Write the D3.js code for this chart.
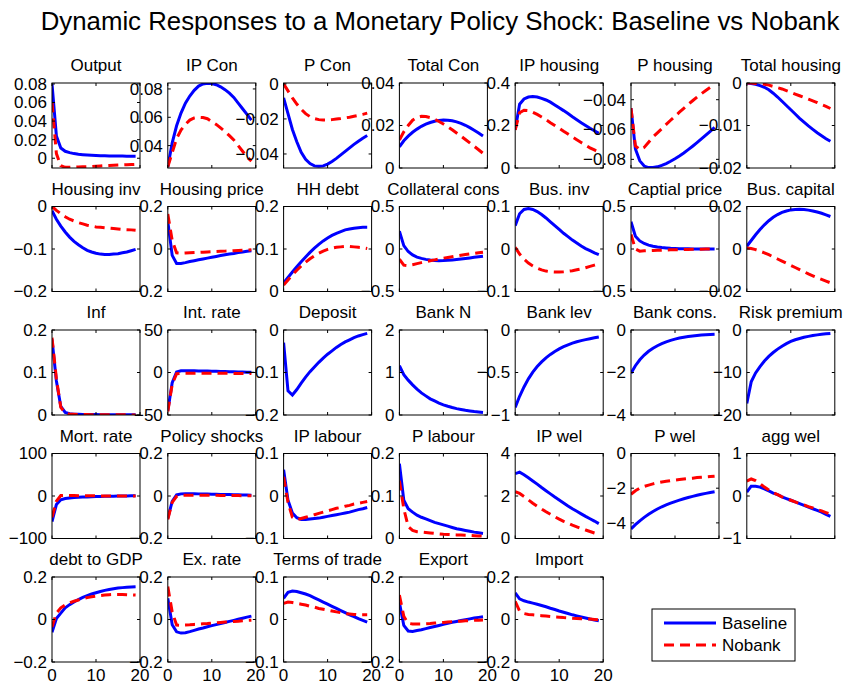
<!DOCTYPE html>
<html>
<head>
<meta charset="utf-8">
<script src="https://cdn.jsdelivr.net/npm/d3@7"></script>
<style>
  body { margin: 0; background: #fff; }
  svg { font-family: "Liberation Sans", Arial, sans-serif; }
</style>
</head>
<body>
<svg></svg>
<script>
const svg = d3.select('svg')
    .attr('width', 847)
    .attr('height', 684);

// impulse response horizon
const periods = [0, 1, 2, 3, 4, 5, 6, 7, 8, 9, 10, 11, 12, 13, 14, 15, 16, 17, 18, 19];
const xTicks = [0, 10, 20];

const titles = ['Output', 'IP Con', 'P Con', 'Total Con', 'IP housing', 'P housing', 'Total housing',
    'Housing inv', 'Housing price', 'HH debt', 'Collateral cons', 'Bus. inv', 'Captial price', 'Bus. capital',
    'Inf', 'Int. rate', 'Deposit', 'Bank N', 'Bank lev', 'Bank cons.', 'Risk premium',
    'Mort. rate', 'Policy shocks', 'IP labour', 'P labour', 'IP wel', 'P wel', 'agg wel',
    'debt to GDP', 'Ex. rate', 'Terms of trade', 'Export', 'Import'];

// y limits of each panel
const yDomains = [
    [-0.0105, 0.081], [0.0242, 0.0842], [-0.048, 0.0005], [0, 0.04], [0, 0.4], [-0.0858, -0.0288], [-0.02, 0],
    [-0.2, 0], [-0.2, 0.2], [0, 0.2], [-0.5, 0.5], [-0.1, 0.1], [-0.5, 0.5], [-0.02, 0.02],
    [0, 0.2], [-50, 50], [-0.2, 0], [0, 2], [-1, 0], [-4, 0], [-20, 0],
    [-100, 100], [-0.2, 0.2], [-0.1, 0.1], [0, 0.2], [0, 4], [-4.9, 0], [-1, 1],
    [-0.2, 0.2], [-0.2, 0.2], [-0.1, 0.1], [-0.2, 0.2], [-0.2, 0.2]];

const yTicks = [
    [0, 0.02, 0.04, 0.06, 0.08], [0.04, 0.06, 0.08], [-0.04, -0.02, 0], [0, 0.02, 0.04], [0, 0.2, 0.4], [-0.08, -0.06, -0.04], [-0.02, -0.01, 0],
    [-0.2, -0.1, 0], [-0.2, 0, 0.2], [0, 0.1, 0.2], [-0.5, 0, 0.5], [-0.1, 0, 0.1], [-0.5, 0, 0.5], [-0.02, 0, 0.02],
    [0, 0.1, 0.2], [-50, 0, 50], [-0.2, -0.1, 0], [0, 1, 2], [-1, -0.5, 0], [-4, -2, 0], [-20, -10, 0],
    [-100, 0, 100], [-0.2, 0, 0.2], [-0.1, 0, 0.1], [0, 0.1, 0.2], [0, 2, 4], [-4, -2, 0], [-1, 0, 1],
    [-0.2, 0, 0.2], [-0.2, 0, 0.2], [-0.1, 0, 0.1], [-0.2, 0, 0.2], [-0.2, 0, 0.2]];

// Baseline responses
const baseline = [
    [0.080, 0.024, 0.011, 0.0075, 0.006, 0.005, 0.0043, 0.0038, 0.0034, 0.0031, 0.0029, 0.0027, 0.0026, 0.0025, 0.0024, 0.0023, 0.0023, 0.0022, 0.0022, 0.0022],
    [0.025, 0.042, 0.054, 0.063, 0.070, 0.075, 0.079, 0.082, 0.0835, 0.084, 0.0838, 0.083, 0.0815, 0.0795, 0.077, 0.074, 0.070, 0.066, 0.062, 0.058],
    [-0.008, -0.017, -0.026, -0.033, -0.039, -0.043, -0.0455, -0.0468, -0.047, -0.0468, -0.0458, -0.0443, -0.0425, -0.0405, -0.0385, -0.0365, -0.0345, -0.0327, -0.031, -0.0295],
    [0.010, 0.0128, 0.015, 0.0168, 0.0183, 0.0196, 0.0206, 0.0214, 0.022, 0.0224, 0.0226, 0.0225, 0.0222, 0.0217, 0.021, 0.0201, 0.019, 0.0178, 0.0165, 0.0151],
    [0.18, 0.30, 0.325, 0.334, 0.336, 0.334, 0.328, 0.32, 0.31, 0.297, 0.283, 0.27, 0.256, 0.241, 0.227, 0.213, 0.2, 0.187, 0.175, 0.163],
    [-0.0456, -0.073, -0.081, -0.0845, -0.0855, -0.0855, -0.085, -0.084, -0.0828, -0.0813, -0.0796, -0.0777, -0.0757, -0.0735, -0.0712, -0.0688, -0.0663, -0.0638, -0.0612, -0.0585],
    [0, -0.0001, -0.0003, -0.0006, -0.001, -0.0016, -0.0024, -0.0033, -0.0043, -0.0053, -0.0063, -0.0073, -0.0083, -0.0092, -0.0101, -0.0109, -0.0117, -0.0124, -0.0131, -0.0137],
    [-0.01, -0.03, -0.046, -0.06, -0.072, -0.082, -0.09, -0.097, -0.103, -0.107, -0.11, -0.112, -0.113, -0.113, -0.112, -0.111, -0.109, -0.107, -0.104, -0.101],
    [0.13, -0.03, -0.068, -0.068, -0.064, -0.059, -0.055, -0.051, -0.047, -0.043, -0.039, -0.035, -0.031, -0.027, -0.024, -0.021, -0.017, -0.014, -0.011, -0.008],
    [0.02, 0.033, 0.046, 0.058, 0.07, 0.081, 0.092, 0.102, 0.111, 0.119, 0.126, 0.132, 0.137, 0.141, 0.145, 0.147, 0.149, 0.15, 0.151, 0.151],
    [0.21, 0.04, -0.03, -0.07, -0.095, -0.11, -0.122, -0.13, -0.135, -0.137, -0.136, -0.133, -0.129, -0.124, -0.118, -0.112, -0.105, -0.098, -0.091, -0.084],
    [0.055, 0.083, 0.093, 0.095, 0.093, 0.088, 0.081, 0.073, 0.064, 0.055, 0.046, 0.037, 0.029, 0.021, 0.014, 0.007, 0.001, -0.004, -0.009, -0.013],
    [0.32, 0.15, 0.095, 0.065, 0.045, 0.033, 0.024, 0.017, 0.012, 0.008, 0.006, 0.004, 0.003, 0.002, 0.001, 0.001, 0, 0, 0, 0],
    [0.0013, 0.004, 0.0067, 0.0092, 0.0114, 0.0133, 0.0149, 0.0162, 0.0172, 0.0179, 0.0184, 0.0186, 0.0187, 0.0186, 0.0183, 0.0179, 0.0174, 0.0168, 0.0161, 0.0153],
    [0.178, 0.08, 0.02, 0.006, 0.003, 0.002, 0.0015, 0.0012, 0.001, 0.001, 0.0009, 0.0008, 0.0007, 0.0006, 0.0005, 0.0005, 0.0004, 0.0004, 0.0003, 0.0003],
    [-45, -12, 0.5, 2.0, 2.2, 2.1, 2.0, 1.9, 1.8, 1.7, 1.6, 1.4, 1.3, 1.1, 1.0, 0.8, 0.7, 0.5, 0.4, 0.2],
    [-0.03, -0.143, -0.153, -0.14, -0.125, -0.111, -0.098, -0.087, -0.076, -0.066, -0.057, -0.049, -0.041, -0.034, -0.028, -0.023, -0.018, -0.014, -0.011, -0.008],
    [1.16, 0.95, 0.82, 0.71, 0.61, 0.52, 0.45, 0.38, 0.33, 0.28, 0.24, 0.205, 0.175, 0.15, 0.13, 0.11, 0.095, 0.08, 0.07, 0.06],
    [-0.91, -0.78, -0.67, -0.575, -0.495, -0.43, -0.375, -0.327, -0.287, -0.252, -0.222, -0.196, -0.174, -0.155, -0.139, -0.125, -0.113, -0.102, -0.092, -0.083],
    [-2.04, -1.68, -1.4, -1.18, -1.0, -0.86, -0.74, -0.64, -0.56, -0.49, -0.43, -0.38, -0.34, -0.31, -0.28, -0.26, -0.24, -0.22, -0.21, -0.2],
    [-17.3, -12.2, -10.1, -8.6, -7.3, -6.2, -5.3, -4.5, -3.8, -3.2, -2.7, -2.3, -2.0, -1.7, -1.5, -1.3, -1.15, -1.0, -0.9, -0.8],
    [-60, -20, -9, -6, -4.5, -3.6, -3, -2.5, -2.1, -1.7, -1.4, -1.1, -0.8, -0.6, -0.4, -0.2, 0, 0.2, 0.3, 0.4],
    [-0.105, -0.025, 0.005, 0.01, 0.011, 0.011, 0.0105, 0.01, 0.0095, 0.009, 0.0085, 0.008, 0.0075, 0.007, 0.0065, 0.006, 0.0055, 0.005, 0.0045, 0.004],
    [0.062, -0.01, -0.04, -0.051, -0.055, -0.055, -0.054, -0.053, -0.052, -0.05, -0.048, -0.046, -0.044, -0.042, -0.04, -0.038, -0.035, -0.032, -0.03, -0.027],
    [0.176, 0.09, 0.07, 0.062, 0.055, 0.05, 0.046, 0.042, 0.038, 0.035, 0.032, 0.029, 0.026, 0.023, 0.021, 0.019, 0.017, 0.015, 0.0135, 0.012],
    [3.05, 3.12, 3.0, 2.86, 2.71, 2.56, 2.4, 2.25, 2.1, 1.95, 1.81, 1.67, 1.53, 1.4, 1.28, 1.16, 1.04, 0.93, 0.82, 0.7],
    [-4.35, -4.1, -3.88, -3.68, -3.5, -3.34, -3.2, -3.07, -2.96, -2.86, -2.77, -2.69, -2.61, -2.54, -2.47, -2.41, -2.35, -2.3, -2.25, -2.21],
    [0.09, 0.23, 0.23, 0.21, 0.17, 0.12, 0.07, 0.03, -0.02, -0.06, -0.1, -0.14, -0.18, -0.22, -0.26, -0.3, -0.34, -0.38, -0.43, -0.48],
    [-0.06, 0.005, 0.03, 0.055, 0.07, 0.083, 0.094, 0.104, 0.112, 0.12, 0.126, 0.132, 0.137, 0.141, 0.145, 0.148, 0.15, 0.152, 0.153, 0.154],
    [0.1, -0.025, -0.058, -0.064, -0.062, -0.057, -0.051, -0.045, -0.04, -0.034, -0.029, -0.024, -0.019, -0.014, -0.009, -0.004, 0.001, 0.006, 0.011, 0.016],
    [0.05, 0.064, 0.067, 0.066, 0.063, 0.06, 0.056, 0.051, 0.046, 0.041, 0.036, 0.031, 0.026, 0.021, 0.016, 0.011, 0.007, 0.002, -0.002, -0.006],
    [0.08, -0.028, -0.054, -0.056, -0.052, -0.048, -0.043, -0.038, -0.033, -0.028, -0.023, -0.018, -0.013, -0.009, -0.005, -0.001, 0.003, 0.007, 0.01, 0.013],
    [0.125, 0.097, 0.088, 0.082, 0.077, 0.072, 0.066, 0.06, 0.053, 0.047, 0.04, 0.034, 0.028, 0.022, 0.017, 0.012, 0.007, 0.002, -0.002, -0.006]];

// Nobank responses (null: bank variables, not in that model)
const nobank = [
    [0.060, 0.005, -0.008, -0.0098, -0.0098, -0.0096, -0.0094, -0.0092, -0.009, -0.0088, -0.0085, -0.0083, -0.008, -0.0078, -0.0076, -0.0074, -0.0072, -0.007, -0.0068, -0.0066],
    [0.025, 0.035, 0.045, 0.051, 0.055, 0.058, 0.0595, 0.060, 0.0598, 0.059, 0.057, 0.055, 0.0525, 0.050, 0.047, 0.044, 0.040, 0.036, 0.032, 0.029],
    [0, -0.004, -0.008, -0.0115, -0.0145, -0.017, -0.0187, -0.0198, -0.0204, -0.0206, -0.0206, -0.0204, -0.0201, -0.0198, -0.0194, -0.019, -0.0185, -0.018, -0.0174, -0.0167],
    [0.0132, 0.017, 0.020, 0.0225, 0.0238, 0.0243, 0.0242, 0.0237, 0.0229, 0.0219, 0.0207, 0.0194, 0.018, 0.0165, 0.015, 0.0134, 0.0118, 0.0102, 0.0086, 0.0069],
    [0.18, 0.26, 0.272, 0.27, 0.262, 0.252, 0.24, 0.227, 0.213, 0.2, 0.187, 0.173, 0.16, 0.146, 0.133, 0.12, 0.107, 0.095, 0.085, 0.075],
    [-0.0456, -0.071, -0.0735, -0.072, -0.0685, -0.065, -0.0622, -0.0594, -0.0566, -0.0538, -0.0511, -0.0484, -0.0458, -0.0432, -0.0407, -0.0383, -0.036, -0.0338, -0.0318, -0.0298],
    [0, 0, -0.0001, -0.0002, -0.0003, -0.0005, -0.0008, -0.0011, -0.0014, -0.0018, -0.0022, -0.0026, -0.003, -0.0034, -0.0038, -0.0042, -0.0046, -0.0051, -0.0055, -0.006],
    [0, -0.009, -0.017, -0.024, -0.03, -0.034, -0.038, -0.041, -0.044, -0.046, -0.048, -0.049, -0.05, -0.051, -0.052, -0.053, -0.054, -0.0545, -0.055, -0.056],
    [0.165, 0.04, -0.018, -0.02, -0.019, -0.018, -0.017, -0.016, -0.015, -0.014, -0.013, -0.012, -0.011, -0.01, -0.009, -0.008, -0.007, -0.006, -0.005, -0.004],
    [0.015, 0.027, 0.039, 0.05, 0.06, 0.069, 0.077, 0.084, 0.09, 0.095, 0.099, 0.102, 0.104, 0.105, 0.106, 0.106, 0.105, 0.104, 0.103, 0.101],
    [-0.12, -0.19, -0.195, -0.185, -0.172, -0.16, -0.149, -0.138, -0.128, -0.118, -0.108, -0.099, -0.09, -0.081, -0.073, -0.066, -0.058, -0.051, -0.044, -0.037],
    [0.004, -0.012, -0.024, -0.033, -0.04, -0.045, -0.049, -0.052, -0.0535, -0.054, -0.054, -0.0535, -0.0525, -0.051, -0.049, -0.047, -0.044, -0.041, -0.038, -0.035],
    [0.17, 0, -0.025, -0.022, -0.02, -0.018, -0.016, -0.014, -0.012, -0.01, -0.009, -0.008, -0.006, -0.005, -0.004, -0.003, -0.002, -0.001, 0, 0],
    [0.0005, 0.0002, -0.0003, -0.001, -0.0018, -0.0027, -0.0037, -0.0047, -0.0057, -0.0067, -0.0077, -0.0087, -0.0097, -0.0107, -0.0117, -0.0126, -0.0135, -0.0143, -0.0151, -0.0159],
    [0.182, 0.085, 0.018, 0.005, 0.002, 0.0015, 0.0012, 0.001, 0.0009, 0.0008, 0.0007, 0.0006, 0.0005, 0.0005, 0.0004, 0.0004, 0.0003, 0.0003, 0.0002, 0.0002],
    [-46, -14, -1.5, -1.0, -0.8, -0.8, -0.8, -0.8, -0.8, -0.9, -0.9, -0.9, -1.0, -1.0, -1.0, -1.1, -1.1, -1.1, -1.2, -1.2],
    null, null, null, null, null,
    [-50, -12, 1, 1.5, 1.2, 1.0, 0.8, 0.6, 0.5, 0.4, 0.3, 0.3, 0.2, 0.2, 0.2, 0.1, 0.1, 0.1, 0.1, 0.1],
    [-0.11, -0.03, -0.002, 0.003, 0.004, 0.004, 0.004, 0.0035, 0.0035, 0.003, 0.003, 0.003, 0.0025, 0.0025, 0.002, 0.002, 0.002, 0.0015, 0.0015, 0.001],
    [0.045, -0.015, -0.05, -0.056, -0.053, -0.05, -0.047, -0.044, -0.041, -0.038, -0.035, -0.032, -0.029, -0.027, -0.024, -0.022, -0.019, -0.017, -0.015, -0.013],
    [0.136, 0.07, 0.028, 0.019, 0.016, 0.015, 0.014, 0.013, 0.012, 0.011, 0.01, 0.0095, 0.009, 0.0085, 0.008, 0.0075, 0.007, 0.0065, 0.006, 0.0055],
    [2.2, 2.12, 1.98, 1.82, 1.66, 1.52, 1.39, 1.26, 1.14, 1.02, 0.91, 0.81, 0.72, 0.63, 0.55, 0.47, 0.4, 0.33, 0.26, 0.2],
    [-2.35, -2.15, -2.0, -1.9, -1.82, -1.75, -1.69, -1.64, -1.6, -1.56, -1.53, -1.5, -1.47, -1.44, -1.42, -1.39, -1.37, -1.35, -1.33, -1.31],
    [0.35, 0.4, 0.36, 0.29, 0.21, 0.14, 0.08, 0.03, -0.02, -0.06, -0.1, -0.14, -0.18, -0.21, -0.25, -0.28, -0.32, -0.35, -0.39, -0.43],
    [-0.035, 0.03, 0.055, 0.068, 0.078, 0.086, 0.092, 0.098, 0.103, 0.107, 0.11, 0.113, 0.115, 0.117, 0.118, 0.118, 0.118, 0.117, 0.116, 0.115],
    [0.155, 0.035, -0.026, -0.027, -0.026, -0.025, -0.023, -0.022, -0.02, -0.019, -0.017, -0.016, -0.014, -0.012, -0.011, -0.009, -0.008, -0.006, -0.004, -0.003],
    [0.038, 0.041, 0.04, 0.038, 0.036, 0.034, 0.031, 0.029, 0.026, 0.024, 0.022, 0.02, 0.018, 0.016, 0.014, 0.013, 0.012, 0.011, 0.011, 0.011],
    [0.115, 0.015, -0.018, -0.021, -0.021, -0.021, -0.02, -0.019, -0.017, -0.015, -0.014, -0.012, -0.011, -0.009, -0.008, -0.006, -0.005, -0.004, -0.003, -0.002],
    [0.085, 0.04, 0.028, 0.024, 0.022, 0.02, 0.018, 0.016, 0.014, 0.012, 0.011, 0.009, 0.008, 0.006, 0.005, 0.004, 0.003, 0.002, 0, -0.002]];

const seriesNames = ['Baseline', 'Nobank'];

// grid of small panels
const cols = 7,
    rows = 5,
    panelX0 = 52, panelDX = 115.8,
    panelY0 = 83, panelDY = 123.5,
    panelW = 88, panelH = 85,
    tickLen = 3,
    fontSize = 17,
    blue = '#0000ff',
    red = '#ff0000';

const fmt = d3.format('~g');

svg.append('text')
    .attr('x', 440)
    .attr('y', 30)
    .attr('text-anchor', 'middle')
    .attr('font-size', 25.8)
    .text('Dynamic Responses to a Monetary Policy Shock: Baseline vs Nobank');

titles.forEach((title, i) => {
    const col = i % cols,
        row = Math.floor(i / cols),
        left = panelX0 + col * panelDX,
        top = panelY0 + row * panelDY;

    const x = d3.scaleLinear().domain([0, 20]).range([0, panelW]),
        y = d3.scaleLinear().domain(yDomains[i]).range([panelH, 0]);

    const g = svg.append('g').attr('transform', `translate(${left},${top})`);

    g.append('clipPath').attr('id', 'clip' + i)
        .append('rect').attr('width', panelW).attr('height', panelH);

    const line = d3.line()
        .x((d, k) => x(periods[k]))
        .y(d => y(d));

    g.append('path')
        .datum(baseline[i])
        .attr('clip-path', `url(#clip${i})`)
        .attr('fill', 'none')
        .attr('stroke', blue)
        .attr('stroke-width', 3)
        .attr('d', line);

    if (nobank[i]) {
        g.append('path')
            .datum(nobank[i])
            .attr('clip-path', `url(#clip${i})`)
            .attr('fill', 'none')
            .attr('stroke', red)
            .attr('stroke-width', 3)
            .attr('stroke-dasharray', '10,6')
            .attr('d', line);
    }

    // box with inward ticks on all four sides
    g.append('rect')
        .attr('width', panelW).attr('height', panelH)
        .attr('fill', 'none').attr('stroke', '#000').attr('stroke-width', 1);

    const yT = yTicks[i];
    g.selectAll('.ytl').data(yT).join('line')
        .attr('x1', 0).attr('x2', tickLen)
        .attr('y1', d => y(d)).attr('y2', d => y(d))
        .attr('stroke', '#000');
    g.selectAll('.ytr').data(yT).join('line')
        .attr('x1', panelW - tickLen).attr('x2', panelW)
        .attr('y1', d => y(d)).attr('y2', d => y(d))
        .attr('stroke', '#000');
    g.selectAll('.xtb').data(xTicks).join('line')
        .attr('x1', d => x(d)).attr('x2', d => x(d))
        .attr('y1', panelH).attr('y2', panelH - tickLen)
        .attr('stroke', '#000');
    g.selectAll('.xtt').data(xTicks).join('line')
        .attr('x1', d => x(d)).attr('x2', d => x(d))
        .attr('y1', 0).attr('y2', tickLen)
        .attr('stroke', '#000');

    g.selectAll('.ylab').data(yT).join('text')
        .attr('x', -5)
        .attr('y', d => y(d))
        .attr('dy', '0.35em')
        .attr('text-anchor', 'end')
        .attr('font-size', fontSize)
        .text(d => fmt(d));

    // only the bottom row carries period labels
    if (row === rows - 1) {
        g.selectAll('.xlab').data(xTicks).join('text')
            .attr('x', d => x(d))
            .attr('y', panelH + 19)
            .attr('text-anchor', 'middle')
            .attr('font-size', fontSize)
            .text(d => fmt(d));
    }

    g.append('text')
        .attr('x', panelW / 2)
        .attr('y', -12)
        .attr('text-anchor', 'middle')
        .attr('font-size', fontSize)
        .text(title);
});

// legend
const legend = svg.append('g').attr('transform', 'translate(652,609)');
legend.append('rect')
    .attr('width', 143).attr('height', 52)
    .attr('fill', '#fff').attr('stroke', '#000');
seriesNames.forEach((name, k) => {
    legend.append('line')
        .attr('x1', 12).attr('x2', 64)
        .attr('y1', 14 + k * 22).attr('y2', 14 + k * 22)
        .attr('stroke', k ? red : blue)
        .attr('stroke-width', 3)
        .attr('stroke-dasharray', k ? '10,6' : null);
    legend.append('text')
        .attr('x', 70)
        .attr('y', 14 + k * 22)
        .attr('dy', '0.35em')
        .attr('font-size', fontSize)
        .text(name);
});
</script>
</body>
</html>
